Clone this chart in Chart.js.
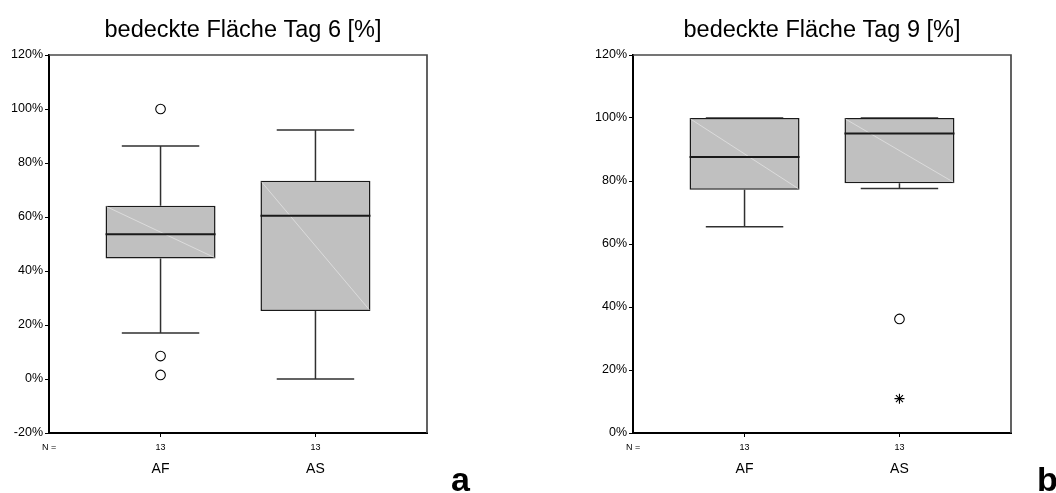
<!DOCTYPE html>
<html>
<head>
<meta charset="utf-8">
<script src="https://cdn.jsdelivr.net/npm/chart.js@4.4.1/dist/chart.umd.min.js"></script>
<style>
  html, body { margin: 0; padding: 0; background: #fff; overflow: hidden; }
  #wrap { position: relative; width: 1056px; height: 493px; }
  .pane { position: absolute; top: 0; height: 493px; }
  #paneA { left: 0; width: 528px; }
  #paneB { left: 584px; width: 472px; }
</style>
</head>
<body>
<div id="wrap">
  <div class="pane" id="paneA"><canvas id="chartA"></canvas></div>
  <div class="pane" id="paneB"><canvas id="chartB"></canvas></div>
</div>
<script>
// Groups and sample sizes
const categories = ['AF', 'AS'];
const groupCounts = [13, 13];

// Day 6: covered area [%]
const day6Min    = [17.0, 0.0];
const day6Q1     = [44.6, 25.2];
const day6Median = [53.6, 60.5];
const day6Q3     = [64.2, 73.4];
const day6Max    = [86.3, 92.2];
const day6OutlierGroup = [1, 1, 1];
const day6OutlierValue = [100, 8.5, 1.5];

// Day 9: covered area [%]
const day9Min    = [65.5, 77.6];
const day9Q1     = [77.2, 79.3];
const day9Median = [87.6, 95.1];
const day9Q3     = [100, 100];
const day9Max    = [100, 100];
const day9OutlierGroup = [2];
const day9OutlierValue = [36.2];
const day9ExtremeGroup = [2];
const day9ExtremeValue = [10.9];

// Axis ticks
const day6Ticks = [-20, 0, 20, 40, 60, 80, 100, 120];
const day9Ticks = [0, 20, 40, 60, 80, 100, 120];

const FONT = '"Liberation Sans", Arial, Helvetica, sans-serif';

// Whiskers, caps, medians and frame drawn through the chart's scales
const boxParts = {
  id: 'boxParts',
  beforeDatasetsDraw(chart, args, opts) {
    const xs = chart.scales.x, ys = chart.scales.y, ctx = chart.ctx;
    const capHalf = xs.getPixelForValue(1.25) - xs.getPixelForValue(1);
    ctx.save();
    ctx.strokeStyle = '#303030';
    ctx.lineWidth = 1.5;
    opts.min.forEach((mn, i) => {
      const x = xs.getPixelForValue(i + 1);
      const yMin = ys.getPixelForValue(mn);
      const yMax = ys.getPixelForValue(opts.max[i]);
      const yQ1 = ys.getPixelForValue(opts.q1[i]);
      const yQ3 = ys.getPixelForValue(opts.q3[i]);
      ctx.beginPath();
      ctx.moveTo(x, yQ3); ctx.lineTo(x, yMax);
      ctx.moveTo(x, yQ1); ctx.lineTo(x, yMin);
      ctx.moveTo(x - capHalf, yMax); ctx.lineTo(x + capHalf, yMax);
      ctx.moveTo(x - capHalf, yMin); ctx.lineTo(x + capHalf, yMin);
      ctx.stroke();
    });
    ctx.restore();
  },
  afterDatasetsDraw(chart, args, opts) {
    const ys = chart.scales.y, ctx = chart.ctx;
    const bars = chart.getDatasetMeta(0).data;
    ctx.save();
    bars.forEach((bar, i) => {
      const half = bar.width / 2;
      const yQ1 = ys.getPixelForValue(opts.q1[i]);
      const yQ3 = ys.getPixelForValue(opts.q3[i]);
      const yMed = ys.getPixelForValue(opts.median[i]);
      // faint diagonal sheen across the box
      ctx.strokeStyle = 'rgba(235,235,235,0.8)';
      ctx.lineWidth = 0.8;
      ctx.beginPath();
      ctx.moveTo(bar.x - half + 1, yQ3 + 1);
      ctx.lineTo(bar.x + half - 1, yQ1 - 1);
      ctx.stroke();
      ctx.strokeStyle = '#1a1a1a';
      ctx.lineWidth = 2;
      ctx.beginPath();
      ctx.moveTo(bar.x - half, yMed);
      ctx.lineTo(bar.x + half, yMed);
      ctx.stroke();
    });
    ctx.restore();
  },
  afterDraw(chart, args, opts) {
    const ctx = chart.ctx, a = chart.chartArea;
    ctx.save();
    // top and right frame lines
    ctx.strokeStyle = '#484848';
    ctx.lineWidth = 1.7;
    ctx.beginPath();
    ctx.moveTo(a.left, a.top); ctx.lineTo(a.right, a.top); ctx.lineTo(a.right, a.bottom);
    ctx.stroke();
    // title
    ctx.fillStyle = '#000';
    ctx.textAlign = 'center';
    ctx.textBaseline = 'alphabetic';
    ctx.font = '23.5px ' + FONT;
    ctx.fillText(opts.title, opts.titleX, 37);
    // "N =" row label
    ctx.textAlign = 'left';
    ctx.font = '9px ' + FONT;
    ctx.fillText('N =', opts.nX, 450);
    // panel letter
    ctx.font = 'bold 34px ' + FONT;
    ctx.fillText(opts.letter, opts.letterX, 491);
    ctx.restore();
  }
};

function makeChart(canvasId, cfg) {
  const scatterSets = [
    {
      type: 'scatter',
      data: cfg.outGroup.map((g, i) => ({ x: g, y: cfg.outValue[i] })),
      pointStyle: 'circle',
      pointRadius: 4.8,
      borderColor: '#000',
      backgroundColor: 'rgba(255,255,255,0)',
      borderWidth: 1.1
    }
  ];
  if (cfg.extGroup) {
    scatterSets.push({
      type: 'scatter',
      data: cfg.extGroup.map((g, i) => ({ x: g, y: cfg.extValue[i] })),
      pointStyle: 'star',
      pointRadius: 5,
      borderColor: '#000',
      borderWidth: 1.1
    });
  }
  return new Chart(document.getElementById(canvasId), {
    type: 'bar',
    data: {
      datasets: [
        {
          type: 'bar',
          data: categories.map((c, i) => ({ x: i + 1, y: [cfg.q1[i], cfg.q3[i]] })),
          backgroundColor: '#c0c0c0',
          borderColor: '#1a1a1a',
          borderWidth: 1.5,
          borderSkipped: false,
          barPercentage: 0.71,
          categoryPercentage: 1
        },
        ...scatterSets
      ]
    },
    options: {
      responsive: true,
      maintainAspectRatio: false,
      devicePixelRatio: 1,
      animation: false,
      layout: { padding: { top: 55, left: 0, right: cfg.padRight, bottom: 0 } },
      plugins: {
        legend: { display: false },
        tooltip: { enabled: false },
        boxParts: {
          min: cfg.min, max: cfg.max, q1: cfg.q1, q3: cfg.q3, median: cfg.median,
          title: cfg.title, titleX: cfg.titleX, nX: 42,
          letter: cfg.letter, letterX: cfg.letterX
        }
      },
      scales: {
        x: {
          type: 'linear',
          position: 'bottom',
          min: 0.28,
          max: 2.72,
          offset: false,
          afterBuildTicks: s => { s.ticks = categories.map((c, i) => ({ value: i + 1 })); },
          afterFit: s => { s.height = 22; },
          ticks: {
            autoSkip: false,
            maxRotation: 0,
            padding: 5,
            color: '#000',
            font: { size: 9, family: FONT },
            callback: v => String(groupCounts[v - 1])
          },
          grid: { drawOnChartArea: false, drawTicks: true, tickLength: 4, color: '#000', offset: false },
          border: { display: true, color: '#000', width: 2 }
        },
        x2: {
          type: 'linear',
          position: 'bottom',
          min: 0.28,
          max: 2.72,
          offset: false,
          afterBuildTicks: s => { s.ticks = categories.map((c, i) => ({ value: i + 1 })); },
          afterFit: s => { s.height = 38; },
          ticks: {
            autoSkip: false,
            maxRotation: 0,
            padding: 6,
            color: '#000',
            font: { size: 14, family: FONT },
            callback: v => categories[v - 1]
          },
          grid: { display: false, drawTicks: false },
          border: { display: false }
        },
        y: {
          type: 'linear',
          min: cfg.ticks[0],
          max: cfg.ticks[cfg.ticks.length - 1],
          afterBuildTicks: s => { s.ticks = cfg.ticks.map(v => ({ value: v })); },
          afterFit: s => { s.width = 49; },
          ticks: {
            padding: 2,
            color: '#000',
            font: { size: 12.5, family: FONT },
            callback: v => v + '%'
          },
          grid: { drawOnChartArea: false, drawTicks: true, tickLength: 4, color: '#000' },
          border: { display: true, color: '#000', width: 2 }
        }
      }
    },
    plugins: [boxParts]
  });
}

makeChart('chartA', {
  min: day6Min, q1: day6Q1, median: day6Median, q3: day6Q3, max: day6Max,
  outGroup: day6OutlierGroup, outValue: day6OutlierValue,
  ticks: day6Ticks, padRight: 101,
  title: 'bedeckte Fläche Tag 6 [%]', titleX: 243,
  letter: 'a', letterX: 451
});

makeChart('chartB', {
  min: day9Min, q1: day9Q1, median: day9Median, q3: day9Q3, max: day9Max,
  outGroup: day9OutlierGroup, outValue: day9OutlierValue,
  extGroup: day9ExtremeGroup, extValue: day9ExtremeValue,
  ticks: day9Ticks, padRight: 45,
  title: 'bedeckte Fläche Tag 9 [%]', titleX: 238,
  letter: 'b', letterX: 453
});
</script>
</body>
</html>
